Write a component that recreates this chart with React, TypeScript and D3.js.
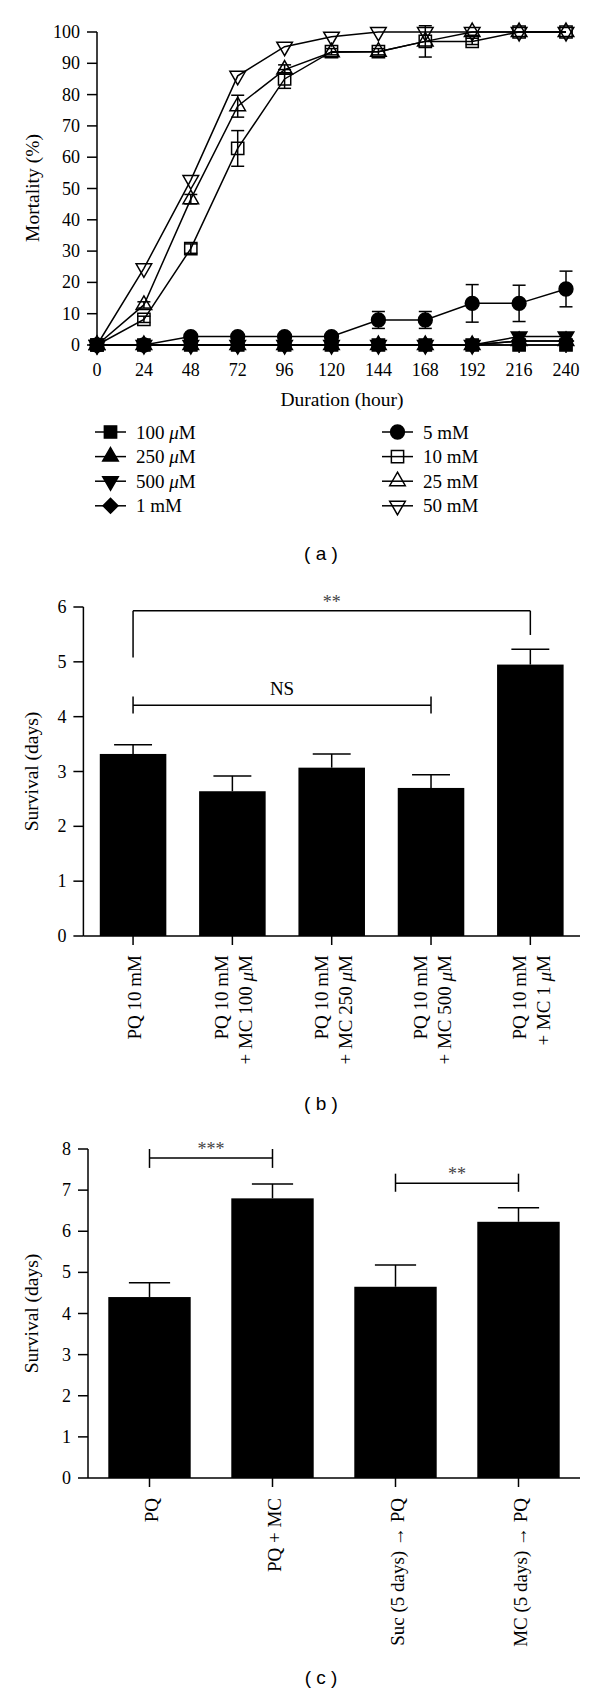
import React from "react";
import * as d3 from "d3";

// ---- panel (a): mortality over time ----
const hours = [0, 24, 48, 72, 96, 120, 144, 168, 192, 216, 240];
const mortalityTicks = [0, 10, 20, 30, 40, 50, 60, 70, 80, 90, 100];

const mc100uM = [0, 0, 0, 0, 0, 0, 0, 0, 0, 0, 0];
const mc250uM = [0, 0, 0, 0, 0, 0, 0, 0, 0, 1.3, 1.3];
const mc500uM = [0, 0, 0, 0, 0, 0, 0, 0, 0, 2.7, 2.7];
const mc1mM = [0, 0, 0, 0, 0, 0, 0, 0, 0, 1.3, 1.3];
const pq5mM = [0, 0, 2.7, 2.7, 2.7, 2.7, 8, 8, 13.3, 13.3, 17.9];
const pq5mMErr = [0, 0, 0, 0, 0, 0, 2.7, 2.7, 6, 5.8, 5.7];
const pq10mM = [0, 8.2, 30.8, 62.8, 85, 93.7, 93.7, 97, 97, 100, 100];
const pq10mMErr = [0, 1, 1.5, 5.7, 3, 1, 1, 5, 1, 0, 0];
const pq25mM = [0, 12.8, 46.6, 76.3, 88, 93.5, 93.7, 97, 100, 100, 100];
const pq25mMErr = [0, 1, 1.5, 3.5, 1.5, 0, 0, 0, 0, 0, 0];
const pq50mM = [0, 24.5, 52.7, 86, 95.3, 98.5, 100, 100, 100, 100, 100];

// ---- panel (b): survival with MC dose ----
const bLabels = [
  ["PQ 10 mM"],
  ["PQ 10 mM", "+ MC 100 μM"],
  ["PQ 10 mM", "+ MC 250 μM"],
  ["PQ 10 mM", "+ MC 500 μM"],
  ["PQ 10 mM", "+ MC 1 μM"],
];
const bMeans = [3.32, 2.64, 3.07, 2.7, 4.95];
const bErrs = [0.17, 0.28, 0.25, 0.24, 0.28];
const bTicks = [0, 1, 2, 3, 4, 5, 6];
const bBrackets = [
  { from: 0, to: 4, level: 5.93, left: [5.93, 5.08], right: [5.93, 5.49], mark: "**" },
  { from: 0, to: 3, level: 4.21, left: [4.37, 4.06], right: [4.37, 4.06], mark: "NS" },
];

// ---- panel (c): pre-treatment ----
const cLabels = [["PQ"], ["PQ + MC"], ["Suc (5 days) → PQ"], ["MC (5 days) → PQ"]];
const cMeans = [4.4, 6.8, 4.65, 6.23];
const cErrs = [0.35, 0.35, 0.53, 0.34];
const cTicks = [0, 1, 2, 3, 4, 5, 6, 7, 8];
const cBrackets = [
  { from: 0, to: 1, level: 7.78, left: [8.0, 7.54], right: [8.0, 7.54], mark: "***" },
  { from: 2, to: 3, level: 7.17, left: [7.4, 6.96], right: [7.4, 6.96], mark: "**" },
];

const SERIF = "'Liberation Serif', 'Times New Roman', serif";
const SANS = "'Liberation Sans', Arial, sans-serif";

// italic mu like the original typesetting
function rich(text: string) {
  const parts = text.split("μ");
  return parts.map((p, i) => (
    <React.Fragment key={i}>
      {i > 0 && <tspan fontStyle="italic">μ</tspan>}
      {p}
    </React.Fragment>
  ));
}

const symbolPath = {
  square: d3.symbol(d3.symbolSquare, 150)(),
  circle: d3.symbol(d3.symbolCircle, 150)(),
  triangle: d3.symbol(d3.symbolTriangle, 105)(),
  diamond: d3.symbol(d3.symbolSquare, 110)(),
};

function Marker({ shape, filled, cx, cy }: any) {
  let d = symbolPath.square;
  let rot = "";
  if (shape === "circle") d = symbolPath.circle;
  if (shape === "up") d = symbolPath.triangle;
  if (shape === "down") {
    d = symbolPath.triangle;
    rot = " rotate(180)";
  }
  if (shape === "diamond") {
    d = symbolPath.diamond;
    rot = " rotate(45)";
  }
  return (
    <path
      d={d as string}
      transform={`translate(${cx},${cy})${rot}`}
      fill={filled ? "#000" : "none"}
      stroke="#000"
      strokeWidth={1.5}
    />
  );
}

const seriesA = [
  { name: "100 μM", values: mc100uM, err: null, shape: "square", filled: true },
  { name: "250 μM", values: mc250uM, err: null, shape: "up", filled: true },
  { name: "500 μM", values: mc500uM, err: null, shape: "down", filled: true },
  { name: "1 mM", values: mc1mM, err: null, shape: "diamond", filled: true },
  { name: "5 mM", values: pq5mM, err: pq5mMErr, shape: "circle", filled: true },
  { name: "10 mM", values: pq10mM, err: pq10mMErr, shape: "square", filled: false },
  { name: "25 mM", values: pq25mM, err: pq25mMErr, shape: "up", filled: false },
  { name: "50 mM", values: pq50mM, err: null, shape: "down", filled: false },
];

function PanelA() {
  const x = d3.scaleLinear().domain([0, 240]).range([97, 566]);
  const y = d3.scaleLinear().domain([0, 100]).range([345, 32]);
  const line = d3
    .line<number>()
    .x((_, i) => x(hours[i]))
    .y((d) => y(d));
  const cap = 6.5;

  return (
    <g>
      {/* axes */}
      <line x1={97} x2={97} y1={y(100)} y2={y(0)} stroke="#000" strokeWidth={1.5} />
      <line x1={97} x2={x(240)} y1={y(0)} y2={y(0)} stroke="#000" strokeWidth={1.5} />
      {mortalityTicks.map((t) => (
        <g key={t}>
          <line x1={87} x2={97} y1={y(t)} y2={y(t)} stroke="#000" strokeWidth={1.5} />
          <text x={80} y={y(t) + 6} textAnchor="end" fontSize={18} fontFamily={SERIF}>
            {t}
          </text>
        </g>
      ))}
      {hours.map((h) => (
        <g key={h}>
          <line x1={x(h)} x2={x(h)} y1={y(0)} y2={y(0) + 8} stroke="#000" strokeWidth={1.5} />
          <text x={x(h)} y={376} textAnchor="middle" fontSize={18} fontFamily={SERIF}>
            {h}
          </text>
        </g>
      ))}
      <text
        transform={`translate(32,188) rotate(-90)`}
        textAnchor="middle"
        dominantBaseline="central"
        fontSize={19.5}
        fontFamily={SERIF}
      >
        Mortality (%)
      </text>
      <text x={342} y={406} textAnchor="middle" fontSize={19.5} fontFamily={SERIF}>
        Duration (hour)
      </text>

      {/* lines */}
      {seriesA.map((s) => (
        <path key={s.name} d={line(s.values) as string} fill="none" stroke="#000" strokeWidth={1.5} />
      ))}
      {/* error bars */}
      {seriesA.map((s) =>
        s.err
          ? s.values.map((v, i) =>
              s.err[i] > 0 ? (
                <g key={s.name + i} stroke="#000" strokeWidth={1.5}>
                  <line x1={x(hours[i])} x2={x(hours[i])} y1={y(v + s.err[i])} y2={y(v - s.err[i])} />
                  <line x1={x(hours[i]) - cap} x2={x(hours[i]) + cap} y1={y(v + s.err[i])} y2={y(v + s.err[i])} />
                  <line x1={x(hours[i]) - cap} x2={x(hours[i]) + cap} y1={y(v - s.err[i])} y2={y(v - s.err[i])} />
                </g>
              ) : null
            )
          : null
      )}
      {/* markers */}
      {seriesA.map((s) =>
        s.values.map((v, i) => (
          <Marker key={s.name + "m" + i} shape={s.shape} filled={s.filled} cx={x(hours[i])} cy={y(v)} />
        ))
      )}

      {/* legend */}
      {seriesA.map((s, i) => {
        const col = i < 4 ? 0 : 1;
        const row = i % 4;
        const lx = col === 0 ? 95 : 382;
        const ly = 432 + row * 24.6;
        return (
          <g key={"lg" + s.name}>
            <line x1={lx} x2={lx + 31} y1={ly} y2={ly} stroke="#000" strokeWidth={1.5} />
            <Marker shape={s.shape} filled={s.filled} cx={lx + 15.5} cy={ly} />
            <text x={lx + 41} y={ly + 6.5} fontSize={19} fontFamily={SERIF}>
              {rich(s.name)}
            </text>
          </g>
        );
      })}
      <text x={321} y={560} textAnchor="middle" fontSize={19} fontFamily={SANS}>
        ( a )
      </text>
    </g>
  );
}

function BarPanel({
  labels,
  means,
  errs,
  ticks,
  brackets,
  yTop,
  yBottom,
  axisX,
  capFrac,
  letter,
  letterY,
  labelGap,
}: any) {
  const keys = labels.map((l: string[]) => l.join(" "));
  const x = d3.scaleBand().domain(keys).range([axisX, 580]).paddingInner(0.33).paddingOuter(0.165);
  const yMax = ticks[ticks.length - 1];
  const y = d3.scaleLinear().domain([0, yMax]).range([yBottom, yTop]);
  const bw = x.bandwidth();
  const cap = (bw * capFrac) / 2;
  const cx = (i: number) => (x(keys[i]) as number) + bw / 2;

  return (
    <g>
      {means.map((m: number, i: number) => (
        <g key={keys[i]}>
          <line x1={cx(i)} x2={cx(i)} y1={y(m)} y2={y(m + errs[i])} stroke="#000" strokeWidth={1.5} />
          <line x1={cx(i) - cap} x2={cx(i) + cap} y1={y(m + errs[i])} y2={y(m + errs[i])} stroke="#000" strokeWidth={1.5} />
          <rect x={x(keys[i])} y={y(m)} width={bw} height={y(0) - y(m)} fill="#000" />
        </g>
      ))}
      <line x1={axisX} x2={axisX} y1={y(yMax)} y2={y(0)} stroke="#000" strokeWidth={1.5} />
      <line x1={axisX} x2={580} y1={y(0)} y2={y(0)} stroke="#000" strokeWidth={1.5} />
      {ticks.map((t: number) => (
        <g key={t}>
          <line x1={axisX - 10} x2={axisX} y1={y(t)} y2={y(t)} stroke="#000" strokeWidth={1.5} />
          <text x={axisX - 17} y={y(t) + 6} textAnchor="end" fontSize={18} fontFamily={SERIF}>
            {t}
          </text>
        </g>
      ))}
      {labels.map((lines: string[], i: number) => (
        <g key={"lab" + i}>
          <line x1={cx(i)} x2={cx(i)} y1={y(0)} y2={y(0) + 9} stroke="#000" strokeWidth={1.5} />
          {lines.map((ln, j) => (
            <text
              key={j}
              transform={`translate(${cx(i) + (j - (lines.length - 1) / 2) * 24 + 1.5},${y(0) + labelGap}) rotate(-90)`}
              textAnchor="end"
              dominantBaseline="central"
              fontSize={19}
              fontFamily={SERIF}
            >
              {rich(ln)}
            </text>
          ))}
        </g>
      ))}
      <text
        transform={`translate(31,${(y(yMax) + y(0)) / 2}) rotate(-90)`}
        textAnchor="middle"
        dominantBaseline="central"
        fontSize={19.5}
        fontFamily={SERIF}
      >
        Survival (days)
      </text>
      {brackets.map((b: any, k: number) => {
        const x1 = cx(b.from);
        const x2 = cx(b.to);
        return (
          <g key={"br" + k} stroke="#000" strokeWidth={1.5}>
            <line x1={x1} x2={x2} y1={y(b.level)} y2={y(b.level)} />
            <line x1={x1} x2={x1} y1={y(b.left[0])} y2={y(b.left[1])} />
            <line x1={x2} x2={x2} y1={y(b.right[0])} y2={y(b.right[1])} />
            <text
              x={(x1 + x2) / 2}
              y={y(b.level) - (b.mark === "NS" ? 10 : 3)}
              textAnchor="middle"
              fontSize={b.mark === "NS" ? 19 : 18}
              fontFamily={SERIF}
              fill={b.mark === "NS" ? "#000" : "#444"}
              stroke="none"
            >
              {b.mark}
            </text>
          </g>
        );
      })}
      <text x={321} y={letterY} textAnchor="middle" fontSize={19} fontFamily={SANS}>
        {letter}
      </text>
    </g>
  );
}

export default function App() {
  return (
    <svg
      width={600}
      height={1692}
      viewBox="0 0 600 1692"
      style={{ position: "absolute", left: 0, top: 0, background: "#fff" }}
    >
      <rect width={600} height={1692} fill="#fff" />
      <PanelA />
      <BarPanel
        labels={bLabels}
        means={bMeans}
        errs={bErrs}
        ticks={bTicks}
        brackets={bBrackets}
        yTop={607}
        yBottom={936}
        axisX={83.4}
        capFrac={0.57}
        letter="( b )"
        letterY={1110}
        labelGap={19}
      />
      <BarPanel
        labels={cLabels}
        means={cMeans}
        errs={cErrs}
        ticks={cTicks}
        brackets={cBrackets}
        yTop={1149}
        yBottom={1478}
        axisX={88}
        capFrac={0.5}
        letter="( c )"
        letterY={1684}
        labelGap={20}
      />
    </svg>
  );
}
